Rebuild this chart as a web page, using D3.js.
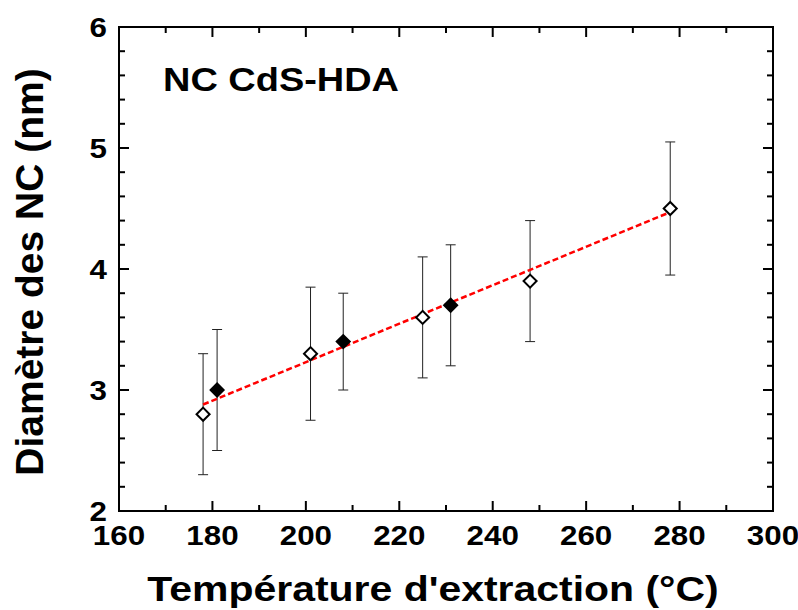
<!DOCTYPE html>
<html><head><meta charset="utf-8">
<script src="https://cdn.jsdelivr.net/npm/d3@7"></script>
<style>
body{margin:0;background:#fff;}
svg{display:block;font-family:"Liberation Sans",Arial,sans-serif;font-weight:bold;}
</style></head>
<body><svg id="c" width="798" height="610"></svg>
<script>
// Data
const openTemps = [178, 201, 225, 248, 278];
const openDiam = [2.8, 3.3, 3.6, 3.9, 4.5];
const openErr = [0.5, 0.55, 0.5, 0.5, 0.55];
const filledTemps = [181, 208, 231];
const filledDiam = [3.0, 3.4, 3.7];
const filledErr = [0.5, 0.4, 0.5];
const fitX = [178, 278];
const fitY = [2.88, 4.47];
const xTicks = [160, 180, 200, 220, 240, 260, 280, 300];
const yTicks = [2, 3, 4, 5, 6];
const title = "NC CdS-HDA";
const xLabel = "Température d'extraction (°C)";
const yLabel = "Diamètre des NC (nm)";

const svg = d3.select("#c");
const L = 119, R = 773, T = 27, B = 511;
const x = d3.scaleLinear().domain([160, 300]).range([L, R]);
const y = d3.scaleLinear().domain([2, 6]).range([B, T]);

const g = svg.append("g");

// frame
g.append("rect").attr("x", L).attr("y", T).attr("width", R - L).attr("height", B - T)
  .attr("fill", "none").attr("stroke", "#000").attr("stroke-width", 2);

// ticks
const xMinor = d3.range(160, 301, 10);
const yMinor = d3.range(2, 6.001, 0.2);
function isMajorX(v){ return Math.abs(v % 20) < 1e-6; }
function isMajorY(v){ return Math.abs(v - Math.round(v)) < 1e-6; }
xMinor.forEach(v => {
  const len = isMajorX(v) ? 10 : 6;
  g.append("line").attr("x1", x(v)).attr("x2", x(v)).attr("y1", B).attr("y2", B - len).attr("stroke", "#000").attr("stroke-width", 2);
  g.append("line").attr("x1", x(v)).attr("x2", x(v)).attr("y1", T).attr("y2", T + len).attr("stroke", "#000").attr("stroke-width", 2);
});
yMinor.forEach(v => {
  const len = isMajorY(v) ? 10 : 6;
  g.append("line").attr("y1", y(v)).attr("y2", y(v)).attr("x1", L).attr("x2", L + len).attr("stroke", "#000").attr("stroke-width", 2);
  g.append("line").attr("y1", y(v)).attr("y2", y(v)).attr("x1", R).attr("x2", R - len).attr("stroke", "#000").attr("stroke-width", 2);
});

// tick labels (horizontally widened like the reference rendering)
const SX = 1.12;
g.selectAll(".xt").data(xTicks).enter().append("text")
  .attr("transform", d => `translate(${x(d)},545) scale(${SX},1)`)
  .attr("text-anchor", "middle").attr("font-size", 28).text(d => d);
g.selectAll(".yt").data(yTicks).enter().append("text")
  .attr("transform", d => `translate(107,${y(d)}) scale(${SX},1)`)
  .attr("dy", "0.36em").attr("text-anchor", "end")
  .attr("font-size", 28).text(d => d);

// axis labels
svg.append("text").attr("transform", `translate(433,601) scale(1.17,1)`).attr("text-anchor", "middle")
  .attr("font-size", 35).text(xLabel);
svg.append("text").attr("transform", `translate(43,272) rotate(-90)`)
  .attr("text-anchor", "middle").attr("font-size", 39).text(yLabel);

// title
svg.append("text").attr("transform", `translate(163,91) scale(1.15,1)`).attr("font-size", 33).text(title);

// error bars
function errBars(xs, ys, es) {
  xs.forEach((xv, i) => {
    const cx = x(xv), y1 = y(ys[i] - es[i]), y2 = y(ys[i] + es[i]);
    g.append("line").attr("x1", cx).attr("x2", cx).attr("y1", y1).attr("y2", y2).attr("stroke", "#222").attr("stroke-width", 1);
    [y1, y2].forEach(yy => g.append("line").attr("x1", cx - 5).attr("x2", cx + 5).attr("y1", yy).attr("y2", yy).attr("stroke", "#222").attr("stroke-width", 1));
  });
}
errBars(openTemps, openDiam, openErr);
errBars(filledTemps, filledDiam, filledErr);

// fit line
const line = d3.line().x(d => x(d[0])).y(d => y(d[1]));
g.append("path").datum(d3.zip(fitX, fitY)).attr("d", line)
  .attr("fill", "none").attr("stroke", "#ff0000").attr("stroke-width", 2.5).attr("stroke-dasharray", "6,3");

// diamonds
const sym = d3.symbol().type(d3.symbolSquare).size(85);
function diamonds(xs, ys, filled) {
  xs.forEach((xv, i) => {
    g.append("path").attr("d", sym())
      .attr("transform", `translate(${x(xv)},${y(ys[i])}) rotate(45)`)
      .attr("fill", filled ? "#000" : "#fff").attr("stroke", "#000").attr("stroke-width", 2);
  });
}
diamonds(openTemps, openDiam, false);
diamonds(filledTemps, filledDiam, true);
</script></body></html>
